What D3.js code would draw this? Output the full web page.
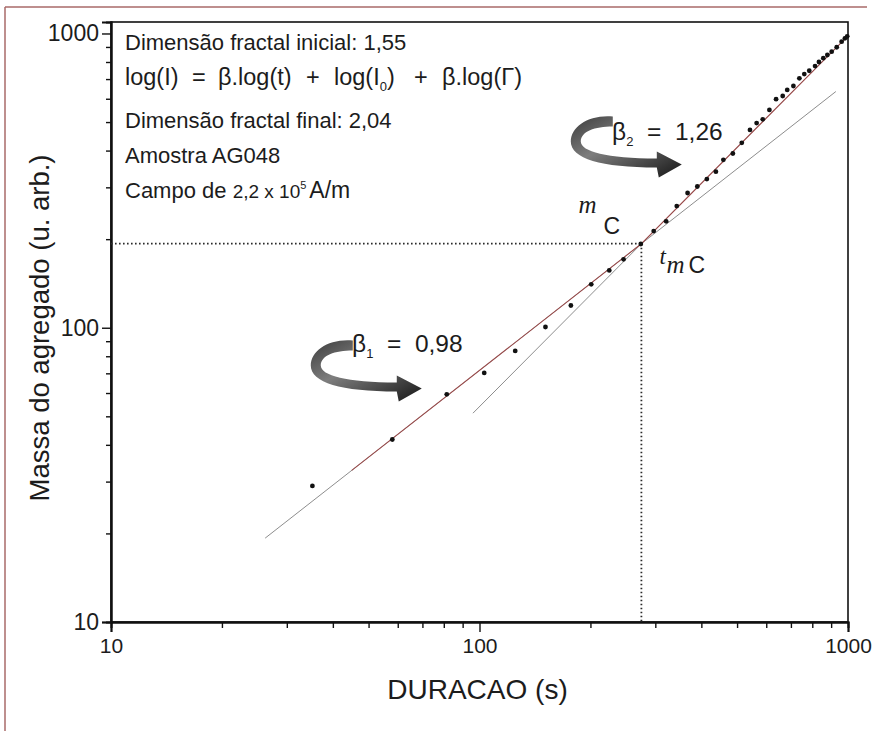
<!DOCTYPE html>
<html>
<head>
<meta charset="utf-8">
<script src="https://cdn.jsdelivr.net/npm/d3@7"></script>
<style>
  html, body { margin: 0; padding: 0; background: #fff; }
  svg { display: block; }
  text { font-family: "Liberation Sans", Arial, sans-serif; fill: #1c1c1c; }
  .serif { font-family: "Liberation Serif", "Times New Roman", serif; font-style: italic; }
</style>
</head>
<body>
<svg id="chart" width="872" height="731"></svg>
<script>
// Aggregate growth under field: duration (s) vs aggregate mass (arb. units), log-log
const durations = [35.2, 58.0, 81.5, 103, 125, 151, 177, 201, 225, 246,
                   274, 297, 321, 343, 367, 390, 414, 438, 459, 487,
                   515, 542, 565, 587, 612, 638, 665, 684, 711, 738,
                   761, 785, 814, 834, 857, 879, 903, 932, 961, 981, 995];
const masses    = [29.0, 41.7, 59.4, 70.2, 83.4, 100.6, 119, 140.5, 156.6, 170.8,
                   192.6, 213, 230, 259, 287, 302, 320, 339, 372, 391,
                   425, 470, 496, 511, 550, 598, 613, 643, 663, 704,
                   728, 747, 775, 800, 824, 845, 867, 898, 938, 963, 978];

// Power-law fits: early regime (beta1) and late regime (beta2), crossing at (t_mC, m_C)
const betas = [0.98, 1.26];
const crossover = { t: 275, m: 193 };
const fitSpans = [[26.2, 927], [96, 1000]];
const dataCurveSpan = [45, 1000];

const majorTicks = [10, 100, 1000];
const minorTicks = [20, 30, 40, 50, 60, 70, 80, 90, 200, 300, 400, 500, 600, 700, 800, 900];

const infoLines = [
  "Dimensão fractal inicial: 1,55",
  "log(I) = β.log(t) + log(I₀) + β.log(Γ)",
  "Dimensão fractal final: 2,04",
  "Amostra AG048",
  "Campo de 2,2 x 10⁵ A/m"
];
const betaLabels = ["0,98", "1,26"];
const xTitle = "DURACAO (s)";
const yTitle = "Massa do agregado (u. arb.)";

const W = 872, H = 731;
const plot = { left: 111, right: 848, top: 22, bottom: 622 };

const svg = d3.select("#chart");

const x = d3.scaleLog().domain([10, 1000]).range([plot.left, plot.right]);
const y = d3.scaleLog().domain([10, 1094]).range([plot.bottom, plot.top]);

// outer page border (top and left edges)
svg.append("line").attr("x1", 5).attr("x2", 867).attr("y1", 7).attr("y2", 7)
  .attr("stroke", "#a86a68").attr("stroke-width", 1.5);
svg.append("line").attr("x1", 5).attr("x2", 5).attr("y1", 7).attr("y2", H)
  .attr("stroke", "#a86a68").attr("stroke-width", 1.5);

// arrow shading
const defs = svg.append("defs");
const grad = defs.append("linearGradient").attr("id", "arrowShade")
  .attr("x1", "0%").attr("y1", "0%").attr("x2", "100%").attr("y2", "100%");
grad.append("stop").attr("offset", "0%").attr("stop-color", "#3c3c3c");
grad.append("stop").attr("offset", "40%").attr("stop-color", "#7e7e7e");
grad.append("stop").attr("offset", "70%").attr("stop-color", "#4a4a4a");
grad.append("stop").attr("offset", "100%").attr("stop-color", "#161616");

// axes: major and minor ticks
const axisStyle = size => g => {
  g.selectAll(".domain").attr("stroke", "#111").attr("stroke-width", 2);
  g.selectAll(".tick line").attr("stroke", "#111").attr("stroke-width", 1.4);
  g.selectAll(".tick text").attr("font-size", size).attr("fill", "#1c1c1c")
    .attr("font-family", "Liberation Sans, Arial, sans-serif");
};

svg.append("g").attr("transform", `translate(0,${plot.bottom})`)
  .call(d3.axisBottom(x).tickValues(minorTicks).tickSize(6).tickFormat(""))
  .call(axisStyle(21));
svg.append("g").attr("transform", `translate(0,${plot.bottom})`)
  .call(d3.axisBottom(x).tickValues(majorTicks).tickSize(10).tickPadding(6).tickFormat(d3.format("d")))
  .call(axisStyle(21));
svg.append("g").attr("transform", `translate(${plot.left},0)`)
  .call(d3.axisLeft(y).tickValues(minorTicks).tickSize(5).tickFormat(""))
  .call(axisStyle(23));
svg.append("g").attr("transform", `translate(${plot.left},0)`)
  .call(d3.axisLeft(y).tickValues(majorTicks).tickSize(9).tickPadding(3).tickFormat(d3.format("d")))
  .call(axisStyle(23));

// plot frame
svg.append("rect")
  .attr("x", plot.left).attr("y", plot.top)
  .attr("width", plot.right - plot.left).attr("height", plot.bottom - plot.top)
  .attr("fill", "none").attr("stroke", "#111").attr("stroke-width", 1.6);

// axis titles
svg.append("text").attr("x", (plot.left + plot.right) / 2 - 2).attr("y", 699)
  .attr("text-anchor", "middle").attr("font-size", 28).text(xTitle);
svg.append("text")
  .attr("transform", `translate(49,${(plot.top + plot.bottom) / 2 + 6}) rotate(-90)`)
  .attr("text-anchor", "middle").attr("font-size", 27.5).text(yTitle);

// crossover guide lines
const cx = x(crossover.t), cy = y(crossover.m);
svg.append("line").attr("x1", plot.left).attr("x2", cx).attr("y1", cy).attr("y2", cy)
  .attr("stroke", "#2a2a2a").attr("stroke-width", 1.8).attr("stroke-dasharray", "1.6,2.4");
svg.append("line").attr("x1", cx).attr("x2", cx).attr("y1", cy).attr("y2", plot.bottom)
  .attr("stroke", "#2a2a2a").attr("stroke-width", 1.8).attr("stroke-dasharray", "1.6,2.4");

// fitted power laws through the crossover point
const fit = (beta, t) => crossover.m * Math.pow(t / crossover.t, beta);
const line = d3.line().x(d => x(d[0])).y(d => y(d[1]));
betas.forEach((b, i) => {
  const [t0, t1] = fitSpans[i];
  svg.append("path").attr("d", line([[t0, fit(b, t0)], [t1, fit(b, t1)]]))
    .attr("fill", "none").attr("stroke", "#8d8d8d").attr("stroke-width", 1);
});

// smoothed data curve (early fit below crossover, late fit above)
const curvePts = [
  [dataCurveSpan[0], fit(betas[0], dataCurveSpan[0])],
  [crossover.t, crossover.m],
  [dataCurveSpan[1], fit(betas[1], dataCurveSpan[1])]
];
svg.append("path").attr("d", line(curvePts))
  .attr("fill", "none").attr("stroke", "#9a3a3a").attr("stroke-opacity", 0.8).attr("stroke-width", 1.1);

// measured points
svg.append("g").selectAll("circle")
  .data(durations.map((t, i) => [t, masses[i]]))
  .join("circle")
  .attr("cx", d => x(d[0])).attr("cy", d => y(d[1])).attr("r", 2.4)
  .attr("fill", "#111");

// information block
const info = svg.append("g").attr("font-size", 22);
const lineY = [50, 85, 128, 163, 198];
info.append("text").attr("x", 125).attr("y", lineY[0]).text(infoLines[0]);
{
  // formula line, tokens spread with wide spacing around operators
  const t = info.append("text").attr("y", lineY[1]).attr("font-size", 23.5);
  const tok = (txt, px) => t.append("tspan").attr("x", px).text(txt);
  tok("log(I)", 125);
  tok("=", 192);
  tok("β.log(t)", 218);
  tok("+", 306);
  tok("log(I", 334);
  t.append("tspan").attr("font-size", 13).attr("dy", 6).text("0");
  t.append("tspan").attr("dy", -6).text(")");
  tok("+", 414);
  tok("β.log(Γ)", 442);
}
info.append("text").attr("x", 125).attr("y", lineY[2]).text(infoLines[2]);
info.append("text").attr("x", 125).attr("y", lineY[3]).text(infoLines[3]);
{
  const t = info.append("text").attr("x", 125).attr("y", lineY[4]);
  t.append("tspan").text("Campo de ");
  t.append("tspan").attr("font-size", 19).text("2,2 x 10");
  t.append("tspan").attr("font-size", 11).attr("dy", -9).text("5");
  t.append("tspan").attr("dy", 9).attr("dx", 3).attr("font-size", 23).text("A/m");
}

// curved arrows with beta labels
const arrowPath = "M0,0 C-24,-2 -42,10 -42,25 C-42,42 -12,51 44,51 L46,61 L69,48 L44,35 L44,42 " +
                  "C-6,42 -32,35 -32,25 C-32,15 -18,10 0,10 Z";
const betaLabelAt = [{ t: 45.1, m: 82.7 }, { t: 229, m: 435 }];
const arrowAt = [{ t: 45.3, m: 90.5 }, { t: 230, m: 522 }];
betaLabelAt.forEach((a, i) => {
  const ax = x(arrowAt[i].t), ay = y(arrowAt[i].m);
  svg.append("path").attr("d", arrowPath)
    .attr("transform", `translate(${ax},${ay})`)
    .attr("fill", "url(#arrowShade)");
  const lx = x(a.t), ly = y(a.m);
  const t = svg.append("text").attr("x", lx).attr("y", ly).attr("font-size", 24.5)
    .attr("xml:space", "preserve");
  t.append("tspan").text("β");
  t.append("tspan").attr("font-size", 13).attr("dy", 6).text(String(i + 1));
  t.append("tspan").attr("dy", -6).text("  =  " + betaLabels[i]);
});

// crossover labels m_C and t_mC
svg.append("text").attr("class", "serif").attr("x", cx - 63).attr("y", cy - 31).attr("font-size", 25).text("m");
svg.append("text").attr("x", cx - 38).attr("y", cy - 10).attr("font-size", 23).text("C");
svg.append("text").attr("class", "serif").attr("x", cx + 18).attr("y", cy + 20).attr("font-size", 23).text("t");
svg.append("text").attr("class", "serif").attr("x", cx + 25).attr("y", cy + 29).attr("font-size", 25).text("m");
svg.append("text").attr("x", cx + 47).attr("y", cy + 29).attr("font-size", 23).text("C");
</script>
</body>
</html>
